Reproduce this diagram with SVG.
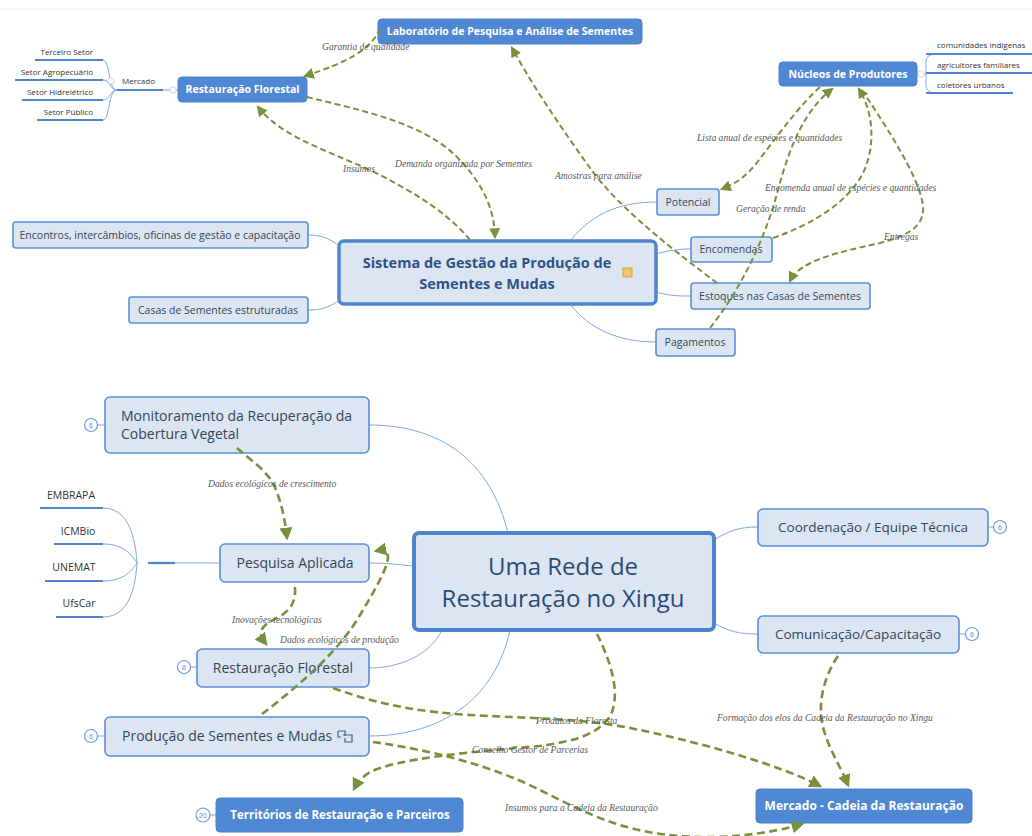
<svg xmlns="http://www.w3.org/2000/svg" width="1032" height="836" viewBox="0 0 1032 836">
<defs>
<style>
.bn{fill:#5088d3;stroke:#4a80c9;stroke-width:1}
.ln{fill:#dce6f2;stroke:#5b8ed6;stroke-width:1.6}
.big{fill:#dce6f2;stroke:#4f84cc;stroke-width:3.5}
.bt{font-family:"Open Sans","Liberation Sans",sans-serif;font-weight:bold;fill:#ffffff;text-anchor:middle}
.lt{font-family:"Open Sans","Liberation Sans",sans-serif;fill:#344459;text-anchor:middle}
.st{font-family:"Open Sans","Liberation Sans",sans-serif;fill:#333333;font-size:8px}
.lab{font-family:"Liberation Serif","DejaVu Serif",serif;font-style:italic;fill:#595959;font-size:9.6px}
.con{fill:none;stroke:#7ea9de;stroke-width:1}
.ul{fill:none;stroke:#4f84cc;stroke-width:2.2}
.gd{fill:none;stroke:#76923c;stroke-width:2;stroke-dasharray:6 3.5;marker-end:url(#ah)}
.gd2{fill:none;stroke:#76923c;stroke-width:2.6;stroke-dasharray:8 4.5;marker-end:url(#ah2)}
.nc{fill:#ffffff;stroke:#6a9ee0;stroke-width:1.2}
.nt{font-family:"Liberation Sans",sans-serif;font-size:7px;fill:#5b8ed6;text-anchor:middle}
.cc{fill:#ffffff;stroke:#c8ccd2;stroke-width:0.8}
</style>
<marker id="ah" viewBox="0 0 10 10" refX="8" refY="5" markerWidth="11" markerHeight="11" markerUnits="userSpaceOnUse" orient="auto"><path d="M0,0 L10,5 L0,10 z" fill="#76923c"/></marker>
<marker id="ah2" viewBox="0 0 10 10" refX="8" refY="5" markerWidth="13" markerHeight="13" markerUnits="userSpaceOnUse" orient="auto"><path d="M0,0 L10,5 L0,10 z" fill="#76923c"/></marker>
</defs>
<rect width="1032" height="836" fill="#ffffff"/>
<line x1="0" y1="9" x2="1032" y2="9" stroke="#ececec" stroke-width="1"/>

<g id="tree-lines">
<path class="con" d="M308,235 C325,235 330,240 340,246"/>
<path class="con" d="M308,310 C325,310 330,306 340,300"/>
<path class="con" d="M570,241 C595,210 625,202 657,202"/>
<path class="con" d="M656,254 C670,250 680,249 691,249"/>
<path class="con" d="M656,292 C670,296 680,296 691,296"/>
<path class="con" d="M570,304 C590,330 620,342 656,342"/>
<path class="con" d="M103,60 C110,60 108,90 117,90"/>
<path class="con" d="M103,80 C110,80 110,90 117,90"/>
<path class="con" d="M103,100 C110,100 110,90 117,90"/>
<path class="con" d="M103,120 C110,120 108,90 117,90"/>
<line class="ul" x1="35" y1="60" x2="103" y2="60"/>
<line class="ul" x1="15" y1="80" x2="103" y2="80"/>
<line class="ul" x1="22" y1="100" x2="103" y2="100"/>
<line class="ul" x1="37" y1="120" x2="103" y2="120"/>
<line class="ul" x1="117" y1="90" x2="163" y2="90"/>
<line class="con" x1="163" y1="90" x2="178" y2="90"/>
<circle class="cc" cx="111" cy="81" r="3.2"/>
<circle class="cc" cx="173" cy="90" r="3.2"/>
<line class="con" x1="917" y1="74" x2="926" y2="74"/>
<path class="con" d="M936,54 Q926,54 926,62 L926,85 Q926,93 936,93"/>
<line class="ul" x1="926" y1="54" x2="1032" y2="54"/>
<line class="ul" x1="926" y1="73" x2="1032" y2="73"/>
<line class="ul" x1="926" y1="93" x2="1013" y2="93"/>
<circle class="cc" cx="921" cy="74" r="3.2"/>

<path class="con" d="M369,425 C440,425 490,460 508,533"/>
<path class="con" d="M369,563 C390,563 400,565 414,566"/>
<path class="con" d="M369,668 C400,668 430,655 442,630"/>
<path class="con" d="M369,736 C440,736 495,700 510,630"/>
<path class="con" d="M714,540 C730,530 740,527 758,527"/>
<path class="con" d="M714,623 C730,632 740,634 758,634"/>
<path class="con" d="M103,508 C125,508 135,530 137,563"/>
<path class="con" d="M103,544 C125,544 132,556 137,563"/>
<path class="con" d="M103,581 C125,581 132,570 137,563"/>
<path class="con" d="M103,617 C125,617 135,596 137,563"/>
<line class="ul" x1="40" y1="508" x2="103" y2="508"/>
<line class="ul" x1="54" y1="544" x2="103" y2="544"/>
<line class="ul" x1="45" y1="581" x2="103" y2="581"/>
<line class="ul" x1="56" y1="617" x2="103" y2="617"/>
<line class="ul" x1="148" y1="563" x2="175" y2="563"/>
<line class="con" x1="175" y1="563" x2="220" y2="563"/>
<line class="con" x1="97" y1="425" x2="105" y2="425"/>
<line class="con" x1="190" y1="667" x2="197" y2="667"/>
<line class="con" x1="97" y1="736" x2="105" y2="736"/>
<line class="con" x1="210" y1="815" x2="216" y2="815"/>
<line class="con" x1="988" y1="527" x2="994" y2="527"/>
<line class="con" x1="959" y1="634" x2="966" y2="634"/>
</g>

<g id="n-lab"><rect class="bn" x="378" y="19" width="264" height="25" rx="4"/><text class="bt" x="510" y="35" font-size="10.5">Laboratório de Pesquisa e Análise de Sementes</text></g>
<g id="n-rest-top"><rect class="bn" x="178" y="77" width="129" height="25" rx="4"/><text class="bt" x="242.5" y="93" font-size="10.5">Restauração Florestal</text></g>
<g id="n-nucleos"><rect class="bn" x="779" y="62" width="138" height="24" rx="4"/><text class="bt" x="848" y="78" font-size="10.5">Núcleos de Produtores</text></g>
<g id="n-mercado-top"><text class="st" x="122" y="84">Mercado</text></g>
<g id="n-setores">
<text class="st" x="93" y="55" text-anchor="end">Terceiro Setor</text>
<text class="st" x="93" y="75" text-anchor="end">Setor Agropecuário</text>
<text class="st" x="93" y="95" text-anchor="end">Setor Hidrelétrico</text>
<text class="st" x="93" y="115" text-anchor="end">Setor Público</text>
</g>
<g id="n-grupos">
<text class="st" x="937" y="48">comunidades indígenas</text>
<text class="st" x="937" y="68">agricultores familiares</text>
<text class="st" x="937" y="88">coletores urbanos</text>
</g>
<g id="n-sistema"><rect class="big" x="339" y="241" width="317" height="63" rx="5"/><text class="lt" x="487" y="268" font-size="14.5" font-weight="bold" style="fill:#2f5286">Sistema de Gestão da Produção de</text><text class="lt" x="487" y="289" font-size="14.5" font-weight="bold" style="fill:#2f5286">Sementes e Mudas</text><rect x="623" y="268" width="9" height="9" fill="#f2c46a" stroke="#d9a040" stroke-width="1"/></g>
<g id="n-encontros"><rect class="ln" x="13" y="222" width="295" height="26" rx="3"/><text class="lt" x="160" y="239" font-size="10.5">Encontros, intercâmbios, oficinas de gestão e capacitação</text></g>
<g id="n-casas"><rect class="ln" x="129" y="297" width="179" height="26" rx="3"/><text class="lt" x="218" y="314" font-size="10.5">Casas de Sementes estruturadas</text></g>
<g id="n-potencial"><rect class="ln" x="657" y="189" width="62" height="26" rx="3"/><text class="lt" x="688" y="206" font-size="10.5">Potencial</text></g>
<g id="n-encomendas"><rect class="ln" x="691" y="237" width="81" height="25" rx="3"/><text class="lt" x="731" y="253" font-size="10.5">Encomendas</text></g>
<g id="n-estoques"><rect class="ln" x="691" y="283" width="179" height="26" rx="3"/><text class="lt" x="780" y="300" font-size="10.5">Estoques nas Casas de Sementes</text></g>
<g id="n-pagamentos"><rect class="ln" x="656" y="329" width="79" height="27" rx="3"/><text class="lt" x="695" y="346" font-size="10.5">Pagamentos</text></g>

<g id="n-central"><rect class="big" x="414" y="533" width="300" height="97" rx="5" style="stroke-width:4"/><text class="lt" x="563" y="575" font-size="24" style="fill:#2c4a75">Uma Rede de</text><text class="lt" x="563" y="607" font-size="24" style="fill:#2c4a75">Restauração no Xingu</text></g>
<g id="n-monit"><rect class="ln" x="105" y="397" width="264" height="56" rx="5"/><text class="lt" x="121" y="421" font-size="14" style="text-anchor:start">Monitoramento da Recuperação da</text><text class="lt" x="121" y="439" font-size="14" style="text-anchor:start">Cobertura Vegetal</text><circle class="nc" cx="91" cy="425" r="6.5"/><text class="nt" x="91" y="427.5">6</text></g>
<g id="n-pesquisa"><rect class="ln" x="220" y="544" width="149" height="38" rx="5"/><text class="lt" x="295" y="568" font-size="14">Pesquisa Aplicada</text></g>
<g id="n-parceiros">
<text class="lt" x="71" y="499" font-size="10.5" style="fill:#333">EMBRAPA</text>
<text class="lt" x="78" y="535" font-size="10.5" style="fill:#333">ICMBio</text>
<text class="lt" x="74" y="571" font-size="10.5" style="fill:#333">UNEMAT</text>
<text class="lt" x="79" y="607" font-size="10.5" style="fill:#333">UfsCar</text>
</g>
<g id="n-rest-bottom"><rect class="ln" x="197" y="649" width="172" height="38" rx="5"/><text class="lt" x="283" y="673" font-size="14">Restauração Florestal</text><circle class="nc" cx="184" cy="667" r="6.5"/><text class="nt" x="184" y="669.5">8</text></g>
<g id="n-producao"><rect class="ln" x="105" y="717" width="264" height="39" rx="5"/><text class="lt" x="122" y="741" font-size="14" style="text-anchor:start">Produção de Sementes e Mudas</text><circle class="nc" cx="91" cy="736" r="6.5"/><text class="nt" x="91" y="738.5">6</text><path d="M338,731 h7 v5 M338,731 v6 h3 M343,735 h9 v7 h-7 v-4" fill="none" stroke="#3f5f8a" stroke-width="1.2"/></g>
<g id="n-territorios"><rect class="bn" x="216" y="798" width="247" height="34" rx="4"/><text class="bt" x="340" y="819" font-size="11.5">Territórios de Restauração e Parceiros</text><circle class="nc" cx="203" cy="815" r="7"/><text class="nt" x="203" y="817.5">20</text></g>
<g id="n-coord"><rect class="ln" x="758" y="509" width="230" height="37" rx="5"/><text class="lt" x="873" y="532" font-size="13.5">Coordenação / Equipe Técnica</text><circle class="nc" cx="1000" cy="527" r="6.5"/><text class="nt" x="1000" y="529.5">6</text></g>
<g id="n-comun"><rect class="ln" x="758" y="616" width="201" height="37" rx="5"/><text class="lt" x="858" y="639" font-size="13.5">Comunicação/Capacitação</text><circle class="nc" cx="972" cy="634" r="6.5"/><text class="nt" x="972" y="636.5">6</text></g>
<g id="n-mercado"><rect class="bn" x="756" y="789" width="216" height="34" rx="4"/><text class="bt" x="864" y="810" font-size="12">Mercado - Cadeia da Restauração</text></g>

<g id="connectors">
<path class="gd" d="M380,28 C372,50 345,63 305,76"/>
<path class="gd" d="M470,240 C445,210 410,190 370,170 C320,148 280,135 258,107"/>
<path class="gd" d="M307,97 C360,110 420,122 455,155 C480,180 494,205 495,237"/>
<path class="gd" d="M717,283 C680,255 620,210 590,168 C565,133 535,90 512,48"/>
<path class="gd" d="M820,87 C795,110 775,140 755,165 C745,177 735,184 722,189"/>
<path class="gd" d="M710,328 C740,290 765,240 778,190 C790,145 805,110 832,89"/>
<path class="gd" d="M773,238 C810,225 845,205 862,175 C875,150 875,115 859,89"/>
<path class="gd" d="M862,90 C885,125 915,170 922,200 C928,225 910,235 880,243 C840,252 800,260 790,281"/>
<path class="gd2" d="M237,448 C250,460 270,472 276,490 C282,505 285,520 287,538"/>
<path class="gd2" d="M295,587 C296,600 292,608 282,615 C266,624 254,628 266,644"/>
<path class="gd2" d="M262,714 C300,685 340,650 360,615 C378,585 392,560 387,553 C384,549 381,550 376,551"/>
<path class="gd2" d="M333,688 C380,705 420,712 470,715 C520,718 580,718 630,728 C700,742 780,765 820,786"/>
<path class="gd2" d="M597,634 C610,660 620,690 612,712 C602,735 570,742 540,746 C470,752 400,758 370,772 C362,777 357,783 354,789"/>
<path class="gd2" d="M373,742 C430,750 490,765 540,790 C580,810 620,832 680,836 C730,840 775,832 802,824"/>
<path class="gd2" d="M838,656 C825,675 818,700 822,722 C826,745 840,765 848,785"/>
</g>

<g id="labels">
<text class="lab" x="322" y="50">Garantia de qualidade</text>
<text class="lab" x="343" y="172">Insumos</text>
<text class="lab" x="395" y="167">Demanda organizada por Sementes</text>
<text class="lab" x="555" y="179">Amostras para análise</text>
<text class="lab" x="697" y="141">Lista anual de espécies e quantidades</text>
<text class="lab" x="765" y="191">Encomenda anual de espécies e quantidades</text>
<text class="lab" x="736" y="212">Geração de renda</text>
<text class="lab" x="884" y="240">Entregas</text>
<text class="lab" x="208" y="487">Dados ecológicos de crescimento</text>
<text class="lab" x="232" y="623">Inovações tecnológicas</text>
<text class="lab" x="280" y="643">Dados ecológicos de produção</text>
<text class="lab" x="536" y="724">Produtos da Floresta</text>
<text class="lab" x="472" y="753">Conselho Gestor de Parcerias</text>
<text class="lab" x="505" y="811">Insumos para a Cadeia da Restauração</text>
<text class="lab" x="717" y="721">Formação dos elos da Cadeia da Restauração no Xingu</text>
</g>
</svg>
